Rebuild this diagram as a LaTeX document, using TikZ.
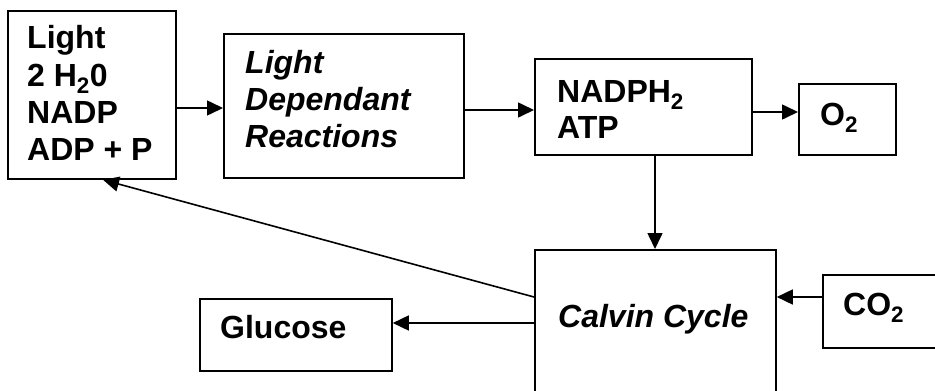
\documentclass[tikz,border=0pt]{standalone}
\usepackage{fontspec}
\setmainfont{Liberation Sans}
\usetikzlibrary{arrows.meta}
\begin{document}
\begin{tikzpicture}[x=1pt,y=-1pt,
  box/.style={draw,line width=1.8pt,rectangle,inner sep=0pt,anchor=north west},
  txt/.style={anchor=base west,inner sep=0pt,font=\fontsize{32}{37}\selectfont\bfseries},
  itxt/.style={txt,font=\fontsize{32}{37}\selectfont\bfseries\itshape},
  arr/.style={line width=1.6pt,-{Triangle[length=16pt,width=15pt]}}]
\useasboundingbox (0,0) rectangle (935,391);
\clip (0,0) rectangle (935,391);
% boxes
\node[box,minimum width=168pt,minimum height=168pt] (b1) at (7,10) {};
\node[box,minimum width=240pt,minimum height=144pt] (b2) at (223,33) {};
\node[box,minimum width=217pt,minimum height=96pt] (b3) at (534,58) {};
\node[box,minimum width=97pt,minimum height=71pt] (b4) at (798,83) {};
\node[box,minimum width=241pt,minimum height=180pt] (calvin) at (534,249) {};
\node[box,minimum width=140pt,minimum height=73pt] (co2) at (822,274) {};
\node[box,minimum width=192pt,minimum height=72pt] (glu) at (199,298) {};
% texts
\node[txt] (t1a) at (27,48) {Light};
\node[txt] (t1b) at (27,86) {2 H\textsubscript{2}0};
\node[txt] (t1c) at (27,123) {NADP};
\node[txt] (t1d) at (27,160) {ADP + P};
\node[itxt] (t2a) at (245,73) {Light};
\node[itxt] (t2b) at (245,110) {Dependant};
\node[itxt] (t2c) at (245,147) {Reactions};
\node[txt] (t3a) at (557,102) {NADPH\textsubscript{2}};
\node[txt] (t3b) at (557,138) {ATP};
\node[txt] (t4) at (820,125) {O\textsubscript{2}};
\node[itxt] (t5) at (558,327) {Calvin Cycle};
\node[txt] (t6) at (843,315) {CO\textsubscript{2}};
\node[txt] (t7) at (220,338) {Glucose};
% connectors
\draw[arr] (b1.east |- 0,108) -- (b2.west |- 0,108);
\draw[arr] (b2.east |- 0,110) -- (b3.west |- 0,110);
\draw[arr] (b3.east |- 0,112) -- (b4.west |- 0,112);
\draw[arr] (b3.south -| 655,0) -- (calvin.north -| 655,0);
\draw[arr] (co2.west |- 0,297) -- (calvin.east |- 0,297);
\draw[arr] (calvin.west |- 0,323) -- (glu.east |- 0,323);
\draw[arr] (calvin.west |- 0,297) -- (b1.south -| 103,0);
\end{tikzpicture}
\end{document}
